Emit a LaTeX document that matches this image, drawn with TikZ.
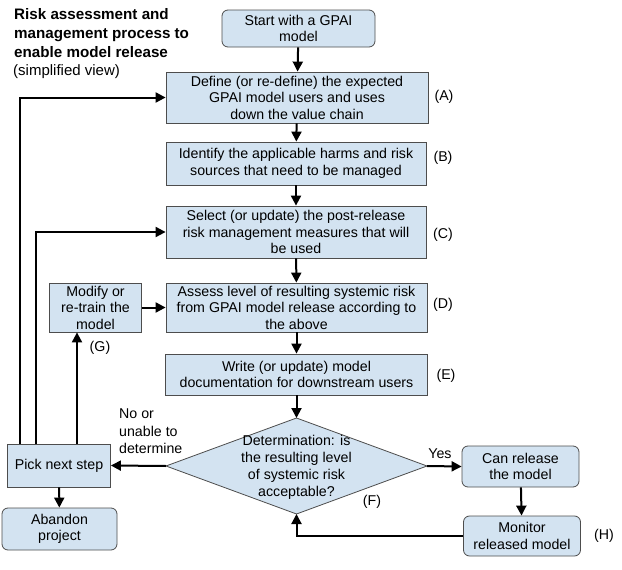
\documentclass[tikz,border=0pt]{standalone}
\usepackage{fontspec}
\setmainfont{Liberation Sans}
\usetikzlibrary{arrows.meta}
\definecolor{boxfill}{HTML}{D3E3F1}
\definecolor{boxline}{HTML}{4D4D4D}
\begin{document}
\begin{tikzpicture}[x=1pt,y=-1pt,
  font=\fontsize{14.2}{16.5}\selectfont,
  box/.style={draw=boxline, fill=boxfill, line width=0.8pt, align=center, inner sep=0pt},
  rbox/.style={box, rounded corners=6pt},
  arr/.style={line width=2pt, -{Triangle[length=10pt,width=10pt]}},
  lbl/.style={inner sep=0pt}]
\useasboundingbox (0,0) rectangle (622,570);

\node[lbl, anchor=north west, align=left, font=\fontsize{15.2}{19.3}\selectfont\bfseries] (title) at (14,8)
  {Risk assessment and\\management process to\\enable model release};
\node[lbl, anchor=north west, align=left, font=\fontsize{15}{18}\selectfont] (sub) at (13,64) {(simplified view)};

\node[rbox, minimum width=153pt, minimum height=37pt] (start) at (298.5,28.5) {Start with a GPAI\\model};
\node[box, minimum width=262pt, minimum height=51pt] (A) at (297,97.5) {Define (or re-define) the expected\\GPAI model users and uses\\down the value chain};
\node[box, minimum width=260pt, minimum height=43pt] (B) at (296,163.5) {Identify the applicable harms and risk\\sources that need to be managed};
\node[box, minimum width=260pt, minimum height=52pt] (C) at (296,232) {Select (or update) the post-release\\risk management measures that will\\be used};
\node[box, minimum width=261pt, minimum height=49pt] (D) at (296.5,307.5) {Assess level of resulting systemic risk\\from GPAI model release according to\\the above};
\node[box, minimum width=262pt, minimum height=41pt] (E) at (296.5,374.5) {Write (or update) model\\documentation for downstream users};

\coordinate (Fn) at (296.5,418);
\coordinate (Fs) at (296.5,514);
\coordinate (Fw) at (166,466);
\coordinate (Fe) at (427,466);
\draw[draw=boxline, fill=boxfill, line width=0.8pt] (Fn) -- (Fe) -- (Fs) -- (Fw) -- cycle;
\node[lbl, align=center, font=\fontsize{14.2}{17}\selectfont] (F) at (296.5,467.5) {Determination: is\\the resulting level\\of systemic risk\\acceptable?};

\node[rbox, minimum width=117pt, minimum height=41pt] (can) at (520.5,466.5) {Can release\\the model};
\node[rbox, minimum width=117pt, minimum height=40pt] (mon) at (522,536) {Monitor\\released model};
\node[box, minimum width=103pt, minimum height=43pt] (pick) at (59,465.5) {Pick next step};
\node[rbox, minimum width=115pt, minimum height=42pt] (aband) at (59.5,529) {Abandon\\project};
\node[box, minimum width=92pt, minimum height=49pt] (mod) at (95.5,307.5) {Modify or\\re-train the\\model};

\node[lbl] (la) at (444,97) {(A)};
\node[lbl] (lb) at (443,158) {(B)};
\node[lbl] (lc) at (443,235) {(C)};
\node[lbl] (ld) at (443,305) {(D)};
\node[lbl] (le) at (446,376) {(E)};
\node[lbl] (lf) at (372,502) {(F)};
\node[lbl] (lg) at (100,348) {(G)};
\node[lbl] (lh) at (604,536) {(H)};
\node[lbl] (yes) at (440,454) {Yes};
\node[lbl, anchor=north west, align=left, font=\fontsize{14.2}{17.5}\selectfont] (no) at (119,409) {No or\\unable to\\determine};

\draw[arr] (start) -- (A);
\draw[arr] (A) -- (B);
\draw[arr] (B) -- (C);
\draw[arr] (C) -- (D);
\draw[arr] (D) -- (E);
\draw[arr] (E) -- (Fn);
\draw[arr] (Fe) -- (can.west);
\draw[arr] (can) -- (mon);
\draw[arr] (mon.west) -| (Fs);
\draw[arr] (Fw) -- (pick.east);
\draw[arr] (pick) -- (aband);
\draw[arr] ([xshift=18pt]pick.north) -- ([xshift=18pt]pick.north |- mod.south);
\draw[arr] (mod) -- (D);
\draw[arr] ([xshift=-39pt]pick.north) |- (A.west);
\draw[arr] ([xshift=-23pt]pick.north) |- (C.west);
\end{tikzpicture}
\end{document}
